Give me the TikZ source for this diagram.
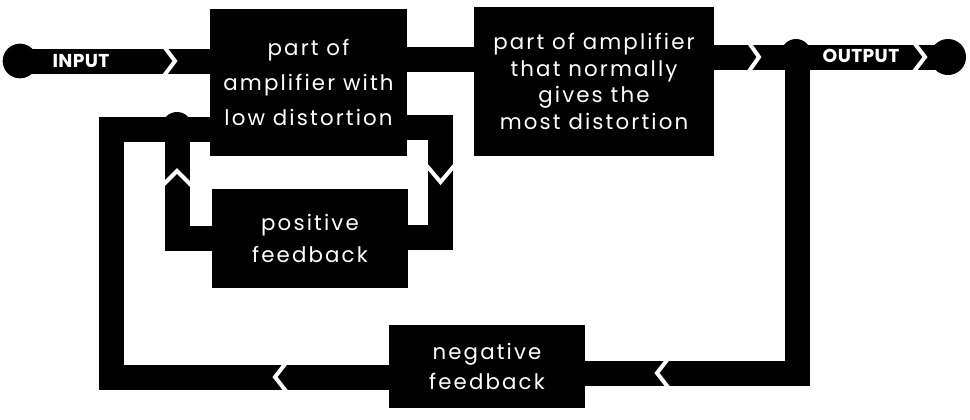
\documentclass[tikz,border=0pt]{standalone}
\usepackage{fontspec}
\setmainfont{Poppins}
\newfontfamily\bodyfont[LetterSpace=10]{Poppins}
\newfontfamily\capfont[LetterSpace=2]{Poppins}
\begin{document}
\begin{tikzpicture}[x=0.75pt,y=-0.75pt,
  block/.style={fill=black, text=white, inner sep=0pt, align=center},
  bar/.style={draw=black, line width=18.75pt, line join=miter, line cap=butt},
  chev/.style={draw=white, line width=3pt, line join=miter},
  dot/.style={circle, fill=black, inner sep=0pt, minimum size=22.5pt},
  term/.style={circle, fill=black, inner sep=0pt, minimum size=26pt},
  lbl/.style={text=white, font=\capfont\bfseries\fontsize{14}{14}\selectfont, inner sep=0pt}]
\useasboundingbox (0,0) rectangle (970,419);

% blocks
\node[block, minimum width=147.75pt, minimum height=110.25pt,
      font=\bodyfont\fontsize{16}{26}\selectfont] (b1) at (308.5,82.5)
  {part of\\amplifier with\\low distortion};
\node[block, minimum width=180pt, minimum height=111.75pt,
      font=\bodyfont\fontsize{16}{20}\selectfont] (b2) at (594,81.5)
  {part of amplifier\\that normally\\gives the\\most distortion};
\node[block, minimum width=147pt, minimum height=74.25pt,
      font=\bodyfont\fontsize{16}{24}\selectfont] (pf) at (310,238.5)
  {positive\\feedback};
\node[block, minimum width=147pt, minimum height=62.25pt,
      font=\bodyfont\fontsize{16}{22}\selectfont] (nf) at (487,366.5)
  {negative\\feedback};

% terminals
\node[term] (inpt) at (20,61) {};
\node[term, minimum size=27pt] (outpt) at (948,57) {};

% junction coordinates
\coordinate (m) at (440,59);
\coordinate (j2) at (797,57);
\coordinate (r1) at (797,373);
\coordinate (l1) at (111,377);
\coordinate (l2) at (111,129);
\coordinate (j1) at (177,129);
\coordinate (p1) at (440,127);
\coordinate (p2) at (440,237);
\coordinate (p3) at (177,238);

% main signal path
\draw[bar] (inpt.center) -- (inpt.center -| b1.west);
\draw[bar] (m -| b1.east) -- (m -| b2.west);
\draw[bar] (b2.east |- j2) -- (outpt.center);

% negative feedback loop
\draw[bar] (j2) -- (r1) -- (r1 -| nf.east);
\draw[bar] (l1 -| nf.west) -- (l1) -- (l2) -- (l2 -| b1.west);

% positive feedback loop
\draw[bar] (p1 -| b1.east) -- (p1) -- (p2) -- (p2 -| pf.east);
\draw[bar] (p3 -| pf.west) -- (p3) -- (j1);

% junction dots
\node[dot] (d1) at (177,127) {};
\node[dot] (d2) at (796,54) {};

% chevrons (white notches)
\draw[chev] (163,45) -- (175,61) -- (163,77);
\draw[chev] (747,40) -- (759,57) -- (747,74);
\draw[chev] (912,40) -- (925,57) -- (912,74);
\draw[chev] (671,355) -- (657,373) -- (671,391);
\draw[chev] (289,359) -- (275,377) -- (289,395);
\draw[chev] (427,166) -- (440.5,182) -- (454,166);
\draw[chev] (162,186) -- (177,171) -- (192,186);

% labels
\node[lbl] (inlbl) at (81,61) {INPUT};
\node[lbl] (outlbl) at (861,56) {OUTPUT};
\end{tikzpicture}
\end{document}
